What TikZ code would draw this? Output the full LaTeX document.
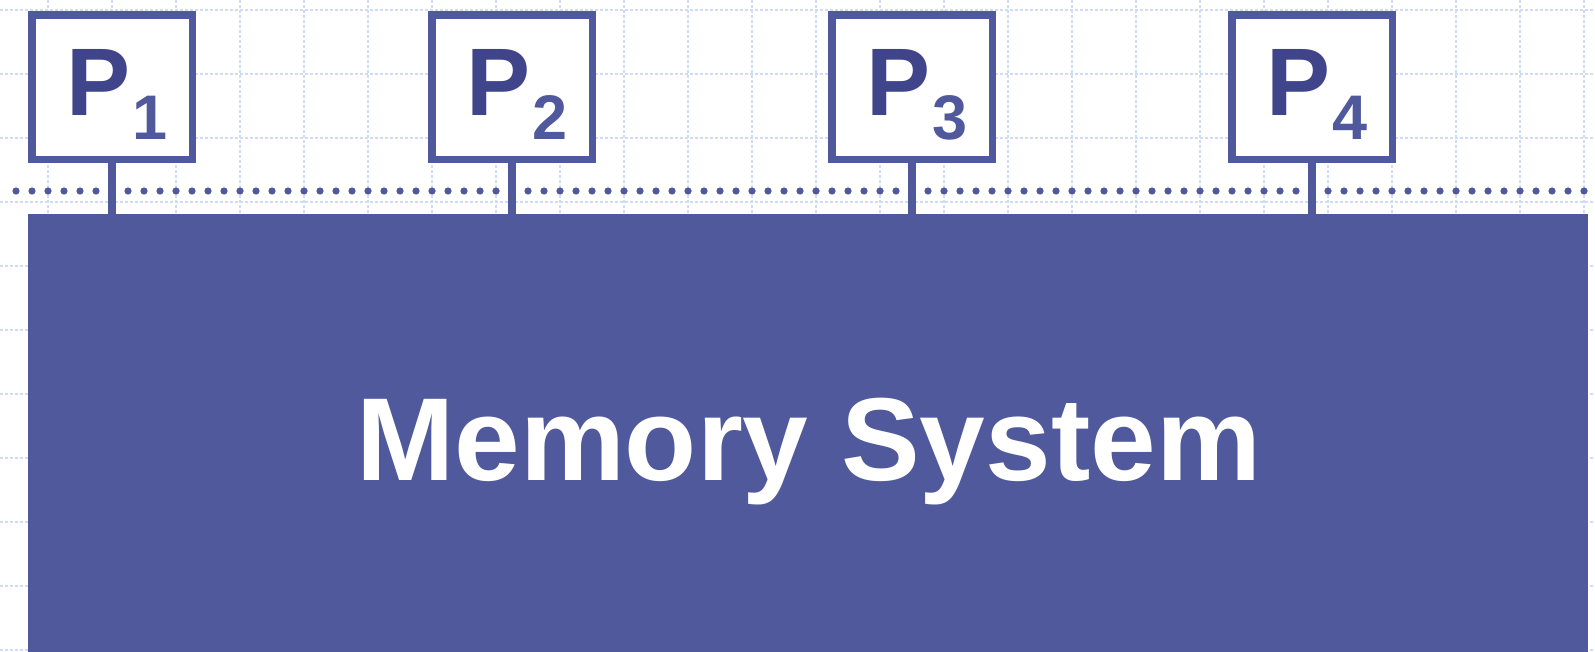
\documentclass[tikz,border=0pt]{standalone}
\usepackage{fontspec}
\setmainfont{Liberation Sans}
\definecolor{frame}{HTML}{4F599B}
\definecolor{pdark}{HTML}{40448A}
\definecolor{gridc}{HTML}{D0DBF8}
\tikzset{
  gridline/.style={draw=gridc, line width=1.2pt, dash pattern=on 3pt off 2pt},
  pbox/.style={draw=frame, fill=white, line width=7.5pt, minimum width=160.5pt, minimum height=144.5pt, inner sep=0pt},
  membox/.style={fill=frame, minimum width=1560pt, minimum height=486pt, inner sep=0pt, outer sep=0pt},
  plabel/.style={inner sep=0pt, outer sep=0pt, text=pdark, font=\fontsize{96pt}{96pt}\selectfont\bfseries},
  memtext/.style={inner sep=0pt, text=white, font=\fontsize{118pt}{118pt}\selectfont\bfseries},
  stem/.style={draw=frame, line width=8.3pt},
  dotc/.style={fill=frame}
}
\newcommand{\subdigit}[1]{\raisebox{-23.6pt}{\fontsize{63pt}{63pt}\selectfont\color{frame}#1}}
\begin{document}
\begin{tikzpicture}[x=1pt,y=-1pt]
\useasboundingbox (0,0) rectangle (1595,651);
\clip (0,0) rectangle (1595,651);
\fill[white] (0,0) rectangle (1595,651);
% background grid
\foreach \i in {0,...,24} \draw[gridline] (48+64*\i,0) -- (48+64*\i,651);
\foreach \j in {0,...,10} \draw[gridline] (0,10+64*\j) -- (1595,10+64*\j);
% dotted bus line
\foreach \k in {1,...,99}{
  \pgfmathtruncatemacro\r{mod(\k+18,25)}
  \ifnum\r=0 \else \fill[dotc] (16*\k,191) circle[radius=3.6pt]; \fi
}
% memory system
\node[membox] (mem) at (808,457) {};
\node[memtext, anchor=base] (mt) at (808.7,480) {Memory System};
% processors
\foreach \i in {1,...,4}{
  \node[pbox] (b\i) at (112+400*\i-400,87) {};
  \node[plabel, anchor=base west] (l\i) at (66.5+400*\i-400,115.7) {P\hspace{2pt}\subdigit{\i}};
  \draw[stem] (b\i.south) -- (b\i.south |- mem.north);
}
\end{tikzpicture}
\end{document}
